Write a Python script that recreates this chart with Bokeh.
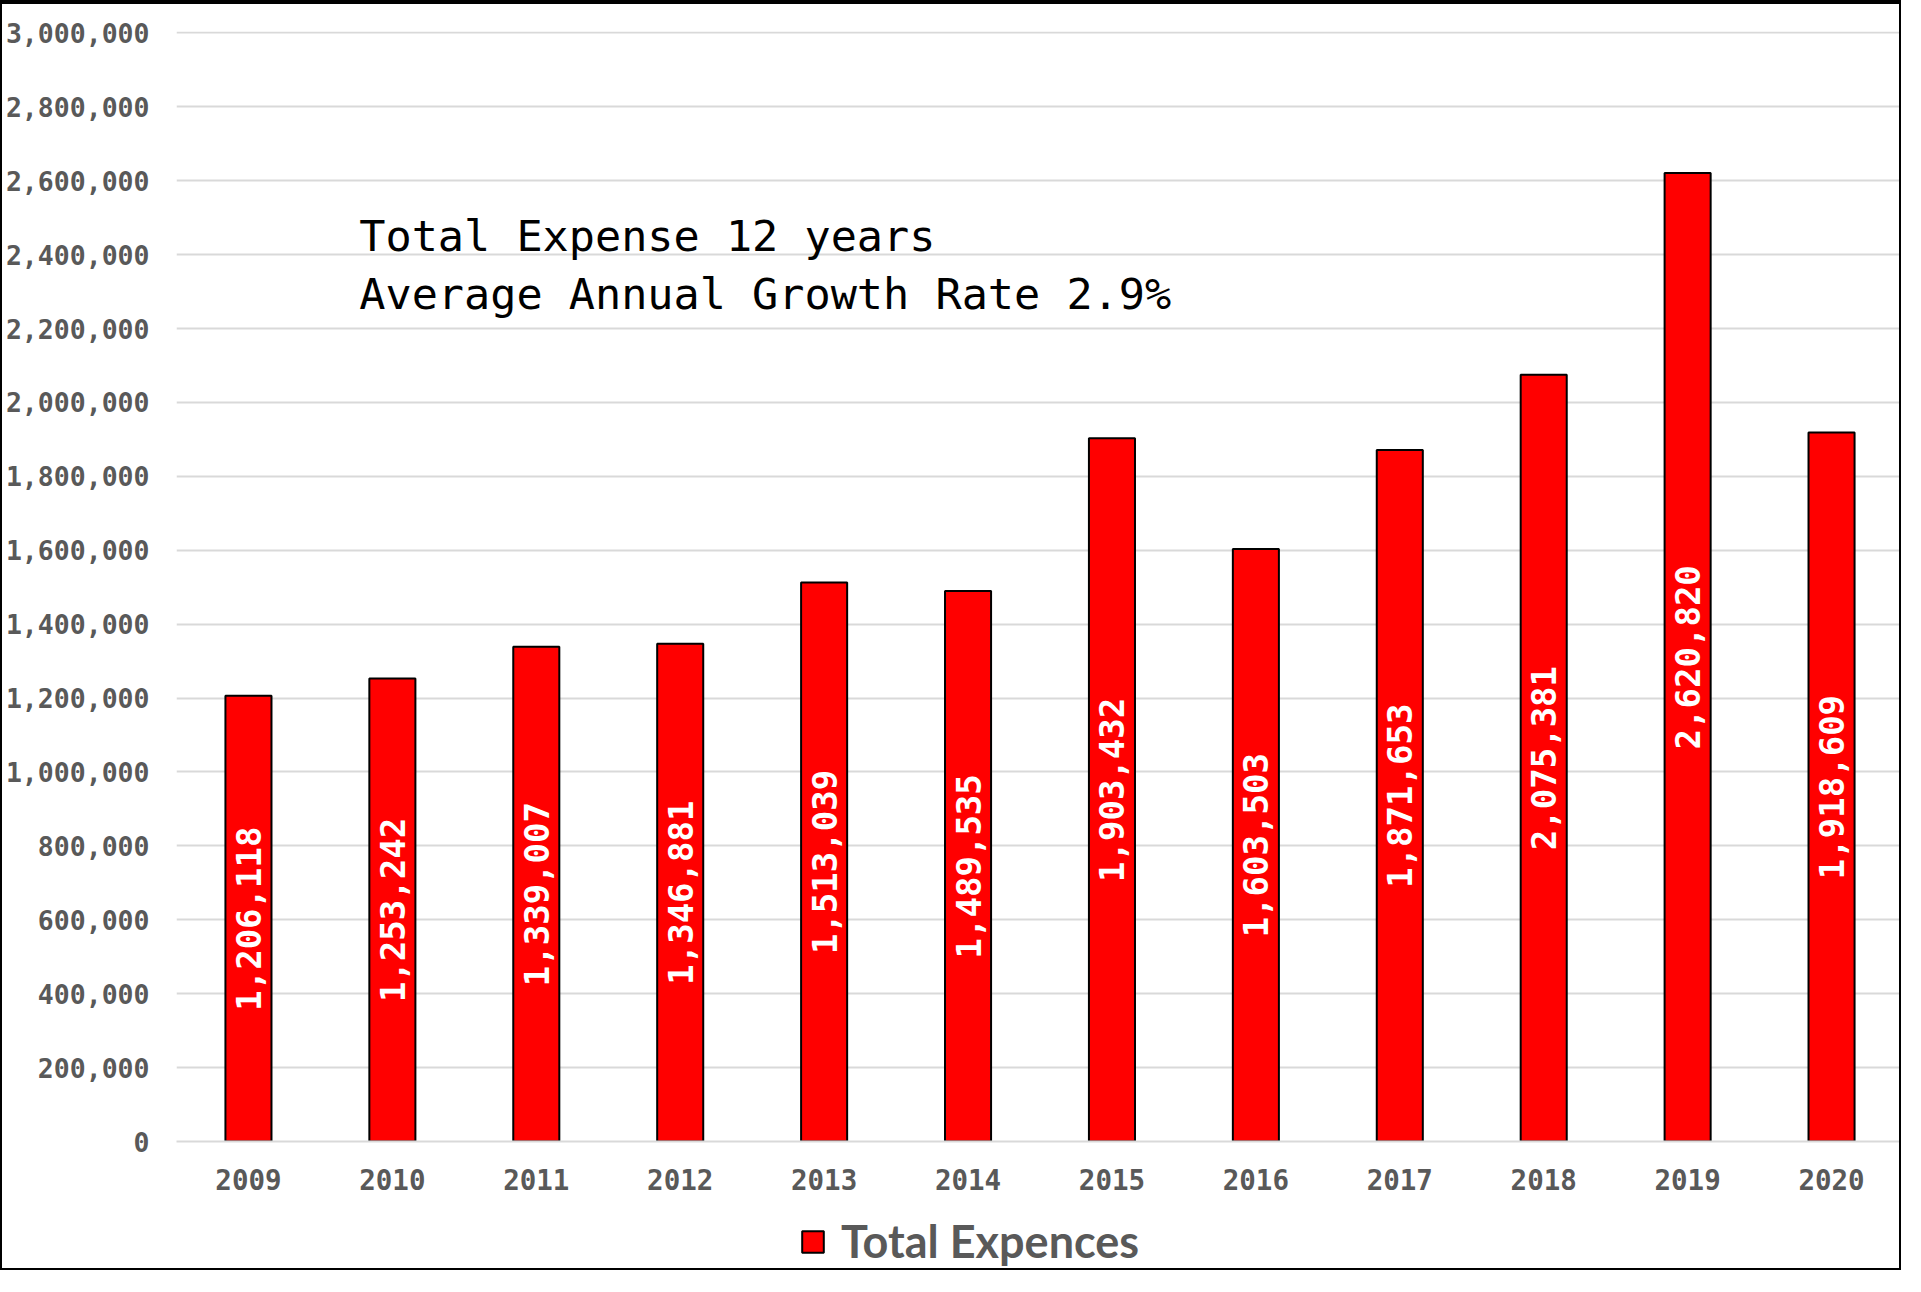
import math
from bokeh.plotting import figure
from bokeh.layouts import column
from bokeh.models import (FactorRange, Range1d, NumeralTickFormatter, FixedTicker,
                          Legend, LegendItem, Label, ColumnDataSource)
from bokeh.core.properties import value
from bokeh.embed import file_html
from bokeh.resources import INLINE

# ---- data ----
years = ["2009", "2010", "2011", "2012", "2013", "2014",
         "2015", "2016", "2017", "2018", "2019", "2020"]
expenses = [1206118, 1253242, 1339007, 1346881, 1513039, 1489535,
            1903432, 1603503, 1871653, 2075381, 2620820, 1918609]
y_ticks = [0, 200000, 400000, 600000, 800000, 1000000, 1200000, 1400000,
           1600000, 1800000, 2000000, 2200000, 2400000, 2600000, 2800000, 3000000]
series_name = "Total Expences"
note_lines = ["Total Expense 12 years", "Average Annual Growth Rate 2.9%"]

labels = ["{:,}".format(v) for v in expenses]
mids = [v / 2 for v in expenses]
src = ColumnDataSource(dict(x=years, top=expenses, mid=mids, lab=labels))

mono = "DejaVu Sans Mono"
gray = "#595959"
bar_style = dict(fill_color="#ff0000", line_color="black", line_width=2)
edge = "2px solid black"

W = 1901
p = figure(width=W, height=1199, x_range=FactorRange(factors=years, range_padding=0),
           y_range=Range1d(0, 3004000), output_backend="svg", toolbar_location=None,
           min_border_left=172, min_border_right=0, min_border_top=27, min_border_bottom=62)
p.outline_line_color = None
p.background_fill_color = "white"
p.border_fill_color = "white"
p.styles = {"border-top": "4px solid black", "border-left": edge, "border-right": edge}

r = p.vbar(x="x", top="top", width=0.32, source=src, **bar_style)

p.text(x="x", y="mid", text="lab", source=src, angle=math.pi / 2,
       text_align="center", text_baseline="middle", text_color="white",
       text_font=value(mono), text_font_style="bold", text_font_size="34px")

# axes
p.yaxis.ticker = FixedTicker(ticks=y_ticks)
p.yaxis.formatter = NumeralTickFormatter(format="0,0")
p.yaxis.axis_line_color = None
p.yaxis.major_tick_line_color = None
p.yaxis.minor_tick_line_color = None
p.yaxis.major_label_standoff = 21
p.yaxis.major_label_text_font = mono
p.yaxis.major_label_text_font_style = "bold"
p.yaxis.major_label_text_font_size = "26.5px"
p.yaxis.major_label_text_color = gray

p.xaxis.axis_line_color = "#d9d9d9"
p.xaxis.axis_line_width = 2
p.xaxis.major_tick_line_color = None
p.xaxis.minor_tick_line_color = None
p.xaxis.major_label_standoff = 21
p.xaxis.major_label_text_font = mono
p.xaxis.major_label_text_font_style = "bold"
p.xaxis.major_label_text_font_size = "27.5px"
p.xaxis.major_label_text_color = gray

p.xgrid.grid_line_color = None
p.ygrid.grid_line_color = "#d9d9d9"
p.ygrid.grid_line_width = 2

# note text
for txt, yv in zip(note_lines, [2450000, 2293000]):
    p.add_layout(Label(x=1.27, y=yv, text=txt, text_font=mono, text_font_size="43.5px",
                       text_color="black", text_align="left", text_baseline="alphabetic"))

# legend strip below the chart; its proxy renderer is hidden, only the legend shows
q = figure(width=W, height=71, x_range=FactorRange(factors=years, range_padding=0),
           y_range=Range1d(0, 1), output_backend="svg", toolbar_location=None,
           x_axis_location=None, y_axis_location=None, min_border_left=172,
           min_border_right=0, min_border_top=13, min_border_bottom=0)
q.outline_line_color = None
q.xgrid.grid_line_color = None
q.ygrid.grid_line_color = None
q.background_fill_color = "white"
q.border_fill_color = "white"
q.styles = {"border-left": edge, "border-right": edge, "border-bottom": edge}
leg_src = ColumnDataSource(dict(x=years[:1], top=expenses[:1]))
r_leg = q.vbar(x="x", top="top", width=0.32, source=leg_src, visible=False, **bar_style)
legend = Legend(items=[LegendItem(label=series_name, renderers=[r_leg])],
                orientation="horizontal", location="center_left",
                glyph_width=27, glyph_height=27, label_standoff=15,
                label_text_font="Lato", label_text_font_style="bold",
                label_text_font_size="45px", label_text_color=gray,
                border_line_color=None, background_fill_alpha=0,
                padding=0, margin=623, spacing=0)
q.add_layout(legend, "center")

page = column(p, q, spacing=0)

open("out.html", "w").write(file_html(page, INLINE))
